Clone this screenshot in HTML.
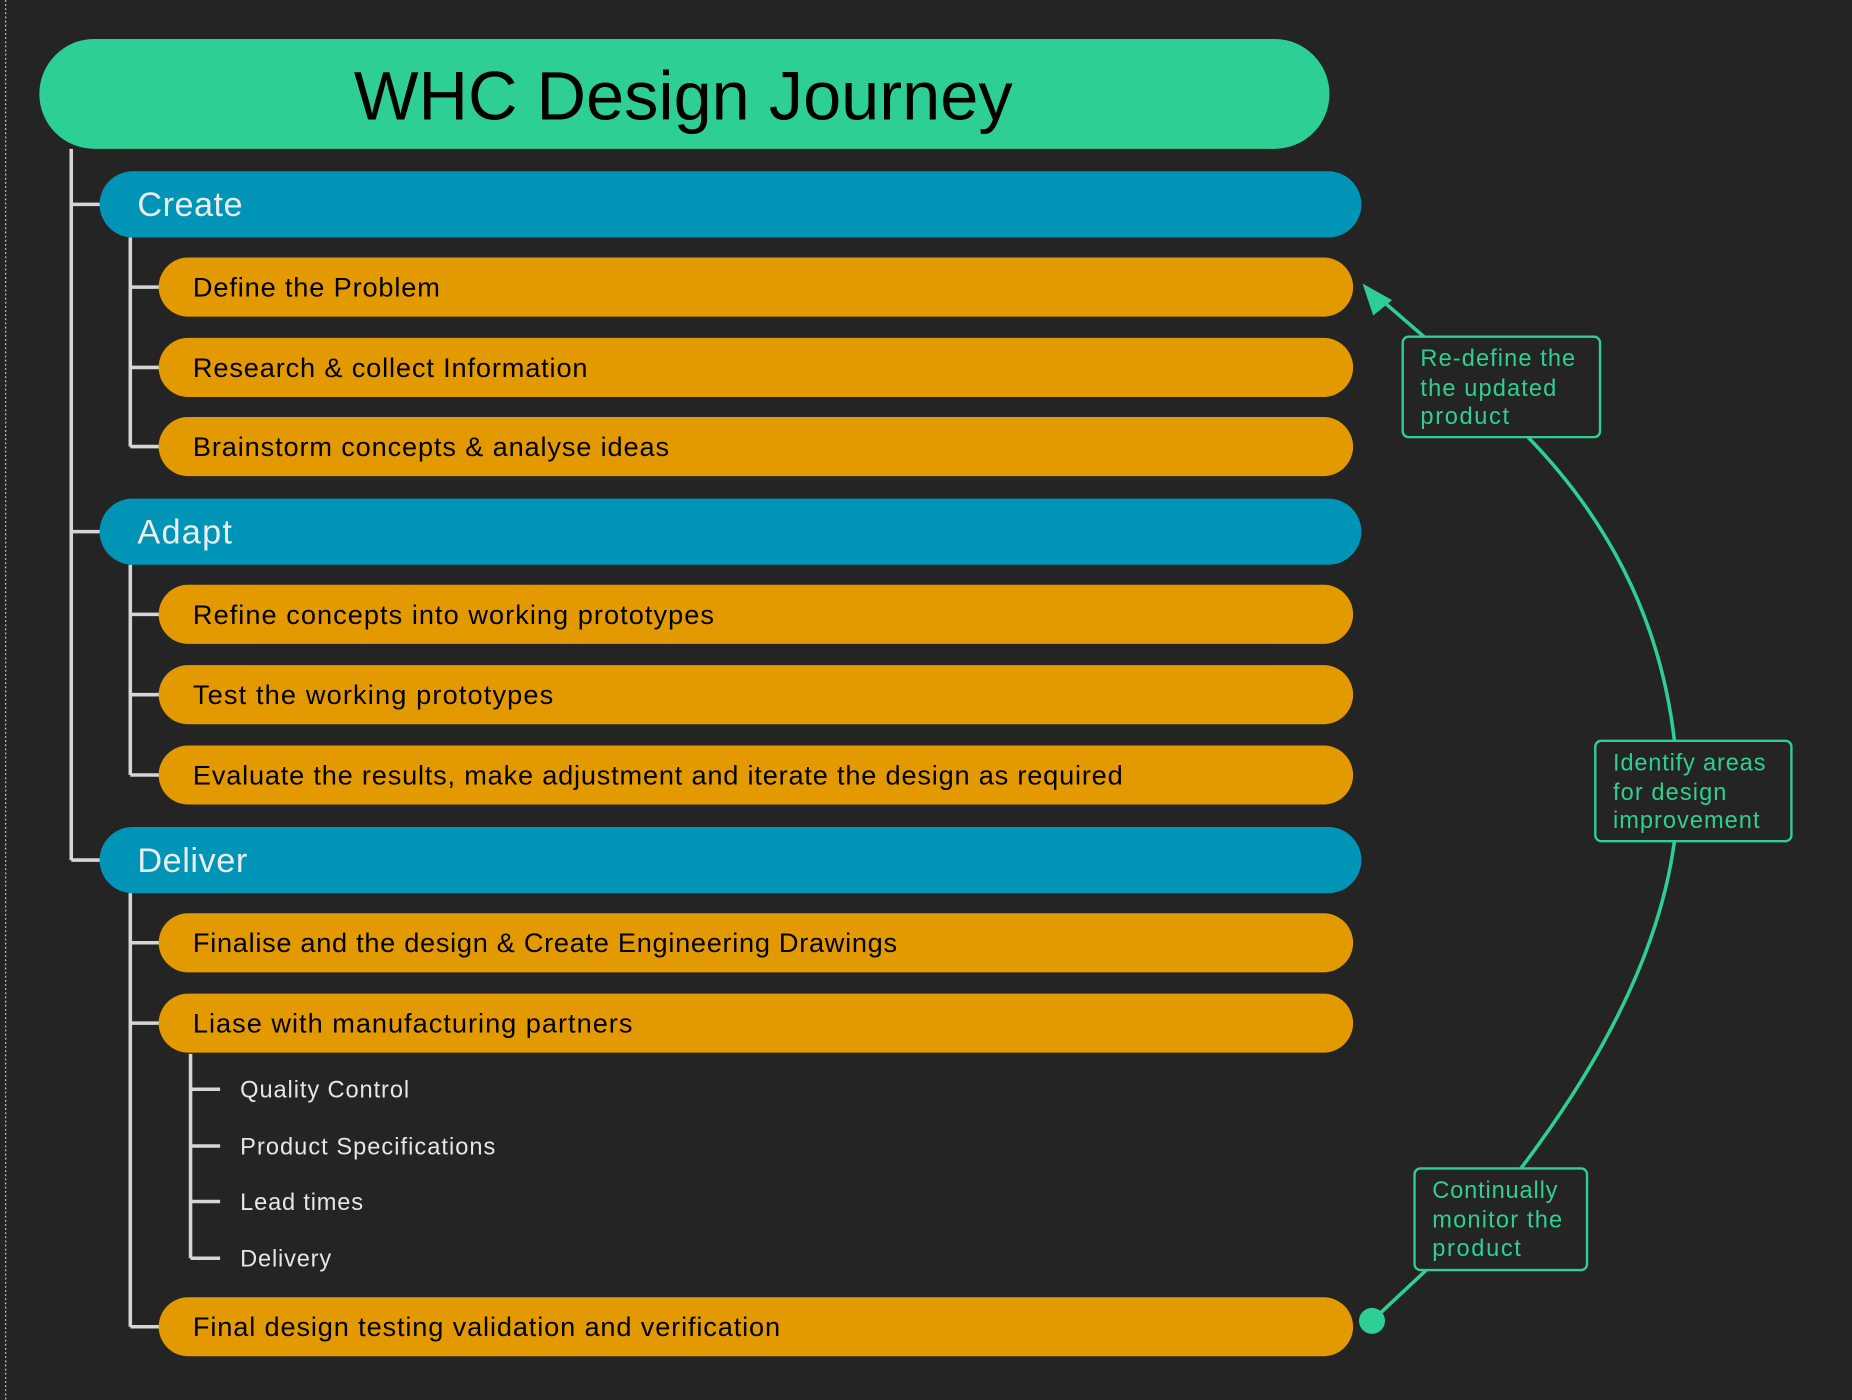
<!DOCTYPE html>
<html><head><meta charset="utf-8"><style>
html,body{margin:0;padding:0;background:#242424;}
svg{display:block;}
text{font-family:"Liberation Sans",sans-serif;}
</style></head><body>
<svg width="1852" height="1400" viewBox="0 0 1567 1185" xmlns="http://www.w3.org/2000/svg">
<rect width="1567" height="1185" fill="#242424"/>
<line x1="4.5" y1="0" x2="4.5" y2="1185" stroke="#cfcfcf" stroke-width="1" stroke-dasharray="1.5 2"/>
<g stroke="#d6d6d6" stroke-width="3" fill="none">
<path d="M60 126V728M60 173H86M60 450H86M60 728H86"/>
<path d="M110 201V378M110 243H136M110 311H136M110 378H136"/>
<path d="M110 478V656M110 520H136M110 588H136M110 656H136"/>
<path d="M110 756V1123M110 798H136M110 866H136M110 1123H136"/>
<path d="M161 892V1065M161 922H186M161 970H186M161 1017H186M161 1065H186"/>
</g>
<rect x="33" y="33" width="1092" height="93" rx="46.5" fill="#2ecf95"/>
<text x="578" y="101" font-size="58" text-anchor="middle" fill="#000">WHC Design Journey</text>
<g fill="#0095b7">
<rect x="84" y="145" width="1068" height="56" rx="28"/>
<rect x="84" y="422" width="1068" height="56" rx="28"/>
<rect x="84" y="700" width="1068" height="56" rx="28"/>
</g>
<g fill="#ececec" font-size="29">
<text x="116" y="183" textLength="89" lengthAdjust="spacing">Create</text>
<text x="116" y="460" textLength="80" lengthAdjust="spacing">Adapt</text>
<text x="116" y="738" textLength="93" lengthAdjust="spacing">Deliver</text>
</g>
<g fill="#e39a00">
<rect x="134" y="218" width="1011" height="50" rx="25"/>
<rect x="134" y="286" width="1011" height="50" rx="25"/>
<rect x="134" y="353" width="1011" height="50" rx="25"/>
<rect x="134" y="495" width="1011" height="50" rx="25"/>
<rect x="134" y="563" width="1011" height="50" rx="25"/>
<rect x="134" y="631" width="1011" height="50" rx="25"/>
<rect x="134" y="773" width="1011" height="50" rx="25"/>
<rect x="134" y="841" width="1011" height="50" rx="25"/>
<rect x="134" y="1098" width="1011" height="50" rx="25"/>
</g>
<g fill="#000" font-size="23">
<text x="163" y="251" textLength="209" lengthAdjust="spacing">Define the Problem</text>
<text x="163" y="319" textLength="334" lengthAdjust="spacing">Research &amp; collect Information</text>
<text x="163" y="386" textLength="403" lengthAdjust="spacing">Brainstorm concepts &amp; analyse ideas</text>
<text x="163" y="528" textLength="441" lengthAdjust="spacing">Refine concepts into working prototypes</text>
<text x="163" y="596" textLength="305" lengthAdjust="spacing">Test the working prototypes</text>
<text x="163" y="664" textLength="787" lengthAdjust="spacing">Evaluate the results, make adjustment and iterate the design as required</text>
<text x="163" y="806" textLength="596" lengthAdjust="spacing">Finalise and the design &amp; Create Engineering Drawings</text>
<text x="163" y="874" textLength="372" lengthAdjust="spacing">Liase with manufacturing partners</text>
<text x="163" y="1131" textLength="497" lengthAdjust="spacing">Final design testing validation and verification</text>
</g>
<g fill="#e6e6e6" font-size="20">
<text x="203" y="929" textLength="143" lengthAdjust="spacing">Quality Control</text>
<text x="203" y="977" textLength="216" lengthAdjust="spacing">Product Specifications</text>
<text x="203" y="1024" textLength="104" lengthAdjust="spacing">Lead times</text>
<text x="203" y="1072" textLength="77" lengthAdjust="spacing">Delivery</text>
</g>
<g stroke="#2ecf95" stroke-width="3" fill="none">
<path d="M1161 1118L1207 1075"/>
<path d="M1287 989Q1400 840 1417 712"/>
<path d="M1417 627Q1400 480 1293 370"/>
<path d="M1205 285L1168 253"/>
<rect x="1197" y="989" width="146" height="86" rx="5" fill="#242424" stroke-width="2"/>
<rect x="1350" y="627" width="166" height="85" rx="5" fill="#242424" stroke-width="2"/>
<rect x="1187" y="285" width="167" height="85" rx="5" fill="#242424" stroke-width="2"/>
</g>
<circle cx="1161" cy="1118" r="11" fill="#2ecf95"/>
<polygon points="1153,240 1178,254 1162,267" fill="#2ecf95"/>
<g fill="#2ecf95" font-size="20">
<text x="1202" y="310" textLength="131" lengthAdjust="spacing">Re-define the</text>
<text x="1202" y="335" textLength="115" lengthAdjust="spacing">the updated</text>
<text x="1202" y="359" textLength="75" lengthAdjust="spacing">product</text>
<text x="1365" y="652" textLength="129" lengthAdjust="spacing">Identify areas</text>
<text x="1365" y="677" textLength="96" lengthAdjust="spacing">for design</text>
<text x="1365" y="701" textLength="124" lengthAdjust="spacing">improvement</text>
<text x="1212" y="1014" textLength="106" lengthAdjust="spacing">Continually</text>
<text x="1212" y="1039" textLength="110" lengthAdjust="spacing">monitor the</text>
<text x="1212" y="1063" textLength="75" lengthAdjust="spacing">product</text>
</g>
</svg>
</body></html>
